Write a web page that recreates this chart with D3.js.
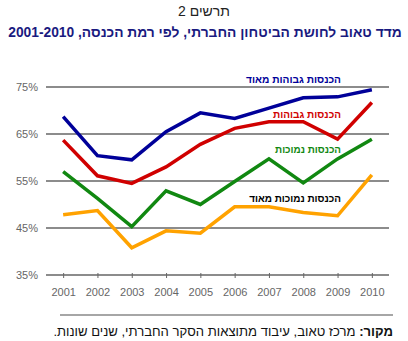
<!DOCTYPE html>
<html><head><meta charset="utf-8">
<script src="https://cdn.jsdelivr.net/npm/d3@7"></script>
<style>body{margin:0;background:#fff}svg{display:block}</style>
</head><body>
<script>
const years = ["2001","2002","2003","2004","2005","2006","2007","2008","2009","2010"];
const veryHigh = [68.7,60.4,59.5,65.5,69.5,68.3,70.5,72.7,72.9,74.4];
const high     = [63.7,56.1,54.5,58.0,62.8,66.2,67.6,67.6,63.9,71.7];
const low      = [57.0,51.3,45.3,52.9,50.0,54.9,59.7,54.6,59.7,63.9];
const veryLow  = [47.8,48.7,40.8,44.4,43.9,49.5,49.5,48.3,47.6,56.3];
const seriesNames = ["הכנסות גבוהות מאוד","הכנסות גבוהות","הכנסות נמוכות","הכנסות נמוכות מאוד"];
const seriesColors = ["#000099","#d00000","#118811","#ffa200"];
const labelColors = ["#000099","#d00000","#118811","#000000"];
const labelY = [79,114,149,198];
const yTicks = [35,45,55,65,75];
const chartNumber = "תרשים 2";
const title = "מדד טאוב לחושת הביטחון החברתי, לפי רמת הכנסה, 2001-2010";
const sourceBold = "מקור:";
const sourceText = " מרכז טאוב, עיבוד מתוצאות הסקר החברתי, שנים שונות.";

(function(){
const W=408,H=341;
const svg=d3.select("body").append("svg").attr("width",W).attr("height",H);
const font="Arial, 'Liberation Sans', sans-serif";
const mLeft=46,mRight=389,mTop=87,mBottom=275;
const x=d3.scalePoint().domain(years).range([mLeft,mRight]).padding(0.5);
const y=d3.scaleLinear().domain([35,75]).range([mBottom,mTop]);
function fit(sel,target,base){
  const w=sel.node().getComputedTextLength();
  if(w>0) sel.attr("font-size",base*target/w);
}

svg.append("text").attr("x",204).attr("y",16).attr("text-anchor","middle")
 .attr("font-family",font).attr("font-size",14).attr("fill","#222").text(chartNumber);
const t=svg.append("text").attr("x",205).attr("y",37).attr("text-anchor","middle").attr("direction","rtl")
 .attr("font-family",font).attr("font-size",14).attr("font-weight","bold").attr("fill","#1a1a80").text(title);
fit(t,394,14);

svg.append("g").selectAll("line").data(yTicks.filter(d=>d>35)).join("line")
 .attr("x1",mLeft).attr("x2",mRight).attr("y1",d=>y(d)).attr("y2",d=>y(d))
 .attr("stroke","#666").attr("stroke-width",1.3);

svg.append("g").selectAll("text").data(yTicks).join("text")
 .attr("x",38).attr("y",d=>y(d)+4).attr("text-anchor","end")
 .attr("font-family",font).attr("font-size",11).attr("fill","#666").text(d=>d+"%");

const xa=svg.append("g").attr("transform",`translate(0,${mBottom})`)
 .call(d3.axisBottom(x).tickSize(3).tickSizeOuter(0));
xa.select(".domain").attr("d",`M${mLeft},0H${mRight}`).attr("stroke","#666").attr("stroke-width",1.3);
xa.selectAll(".tick line").attr("stroke","#666").attr("y1",-2);
xa.selectAll(".tick text").attr("font-family",font).attr("font-size",11).attr("fill","#666").attr("dy",0).attr("y",21);

const data=[veryHigh,high,low,veryLow];
const line=d3.line().x((d,i)=>x(years[i])).y(d=>y(d));
svg.append("g").selectAll("path").data(data.slice().reverse()).join("path")
 .attr("d",line).attr("fill","none").attr("stroke",(d,i)=>seriesColors[3-i])
 .attr("stroke-width",3.5).attr("stroke-linejoin","miter");

const labelW=[95,68,66,92];
svg.append("g").selectAll("text").data(seriesNames).join("text")
 .attr("x",341).attr("y",(d,i)=>labelY[i]+4).attr("text-anchor","start").attr("direction","rtl")
 .attr("font-family",font).attr("font-size",11).attr("font-weight","bold")
 .attr("fill",(d,i)=>labelColors[i]).text(d=>d)
 .each(function(d,i){fit(d3.select(this),labelW[i],11);});

svg.append("line").attr("x1",60).attr("x2",393).attr("y1",315).attr("y2",315)
 .attr("stroke","#888").attr("stroke-width",1.3);
const src=svg.append("text").attr("x",393).attr("y",336).attr("direction","rtl").attr("text-anchor","start")
 .attr("font-family",font).attr("font-size",12).attr("fill","#111");
src.append("tspan").attr("font-weight","bold").text(sourceBold);
src.append("tspan").text(sourceText);
fit(src,340,12);
})();
</script>
</body></html>
